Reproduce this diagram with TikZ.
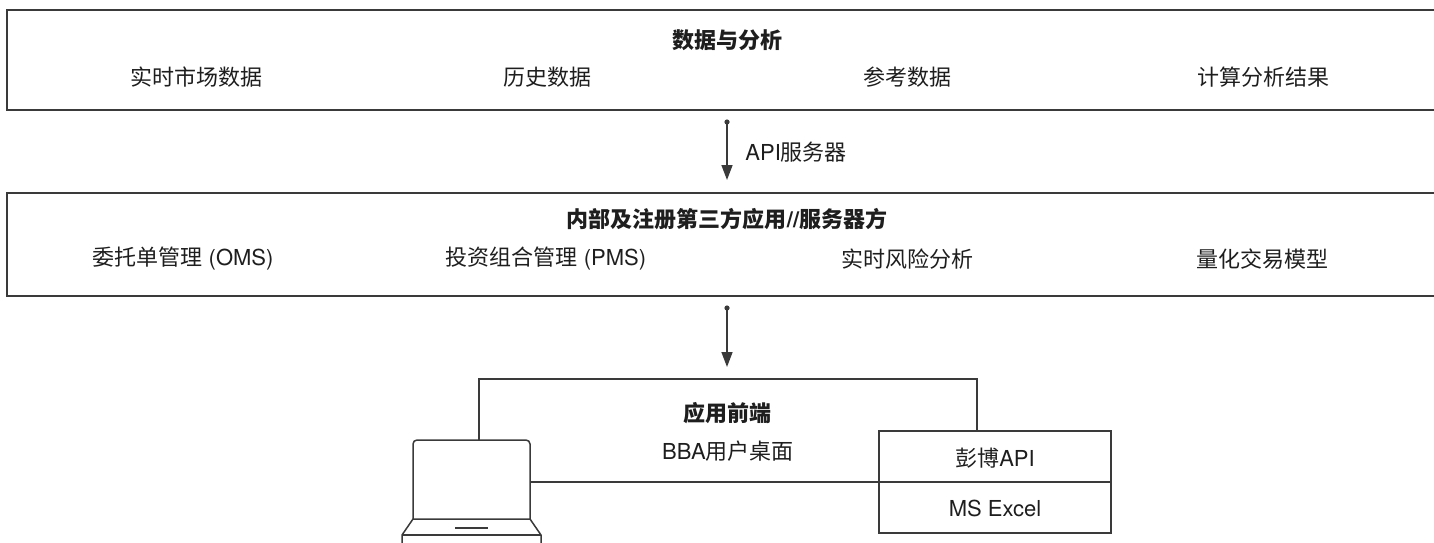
\documentclass[tikz,border=0pt]{standalone}
\usepackage{fontspec}
\setmainfont{TeX Gyre Heros}
\newfontfamily\cjk{Noto Sans CJK SC}
\usetikzlibrary{arrows.meta}
\definecolor{linec}{HTML}{3A3A3A}
\definecolor{textc}{HTML}{1E1E1E}
\begin{document}
\begin{tikzpicture}[x=0.5pt,y=-0.5pt,
  lbl/.style={font=\fontsize{11}{13}\selectfont, text=textc, inner sep=0pt},
  ttl/.style={lbl, font=\fontsize{11}{13}\selectfont\bfseries},
  ln/.style={draw=linec, line width=0.75pt},
  arr/.style={ln, -{Triangle[length=7.5pt,width=5.5pt]}},
  dotc/.style={fill=linec, circle, inner sep=0pt, minimum size=2.6pt}]
\useasboundingbox (0,0) rectangle (1434,542);
\clip (0,0) rectangle (1434,542);
% layer 1
\draw[ln] (1445,10) -- (7,10) -- (7,110) -- (1445,110);
\node[ttl] (t1) at (727,40) {\cjk 数据与分析};
\node[lbl] (d1) at (196,77) {\cjk 实时市场数据};
\node[lbl] (d2) at (547,77) {\cjk 历史数据};
\node[lbl] (d3) at (907,77) {\cjk 参考数据};
\node[lbl] (d4) at (1263,77) {\cjk 计算分析结果};
% arrow 1
\coordinate (a1s) at (727,122);
\coordinate (a1e) at (727,180);
\draw[arr] (a1s) -- (a1e);
\node[dotc] (a1d) at (a1s) {};
\node[lbl, anchor=west] (apil) at (745,152) {API{\cjk 服务器}};
% layer 2
\draw[ln] (1445,193) -- (7,193) -- (7,296) -- (1445,296);
\node[ttl] (t2) at (727,219) {{\cjk 内部及注册第三方应用}//{\cjk 服务器方}};
\node[lbl] (s1) at (183,259) {{\cjk 委托单管理} (OMS)};
\node[lbl] (s2) at (546,259) {{\cjk 投资组合管理} (PMS)};
\node[lbl] (s3) at (907,259) {\cjk 实时风险分析};
\node[lbl] (s4) at (1262,259) {\cjk 量化交易模型};
% arrow 2
\coordinate (a2s) at (727,308);
\coordinate (a2e) at (727,367);
\draw[arr] (a2s) -- (a2e);
\node[dotc] (a2d) at (a2s) {};
% front end
\coordinate (feL) at (479,440);
\coordinate (feTL) at (479,379);
\coordinate (feTR) at (977,379);
\coordinate (feR) at (977,431);
\draw[ln] (feL) -- (feTL) -- (feTR) -- (feR);
\node[ttl] (t3) at (727,413) {\cjk 应用前端};
\node[lbl] (bba) at (728,451) {BBA{\cjk 用户桌面}};
% API / Excel boxes
\draw[ln] (879,431) rectangle (1111,533);
\coordinate (mid) at (879,482);
\draw[ln] (mid) -- (1111,482);
\node[lbl] (bapi) at (995,458) {{\cjk 彭博}API};
\node[lbl] (xl) at (995,508) {MS Excel};
% laptop
\coordinate (lapR) at (530,482);
\draw[ln, rounded corners=2pt] (413,519) -- (413,440) -- (530,440) -- (530,519);
\draw[ln, line join=round] (402,548) -- (402,535) -- (413,519) -- (530,519) -- (541,535) -- (541,548);
\draw[ln] (402,535) -- (541,535);
\draw[ln] (455,528) -- (488,528);
\draw[ln] (lapR) -- (mid);
\end{tikzpicture}
\end{document}
